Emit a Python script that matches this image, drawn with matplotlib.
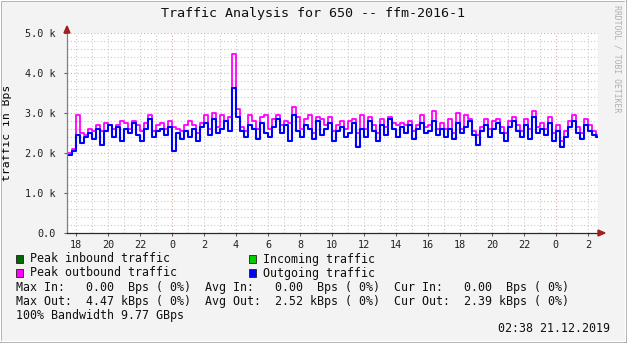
import numpy as np
import matplotlib
matplotlib.use("Agg")
import matplotlib.pyplot as plt
from matplotlib.patches import Rectangle

# hours relative to midnight of the first day, 15 min steps
t_start = -6.5
t_step = 0.25
t_end = 26.63

out_k = [1.95, 2.05, 2.45, 2.25, 2.4, 2.5, 2.35, 2.6, 2.2, 2.55, 2.7, 2.4, 2.65, 2.3, 2.6, 2.5, 2.75, 2.45, 2.3, 2.6, 2.85, 2.4,
         2.55, 2.6, 2.45, 2.65, 2.05, 2.5, 2.35, 2.55, 2.4, 2.6, 2.3, 2.65, 2.75, 2.45, 2.85, 2.5, 2.6, 2.8, 2.55, 3.62, 2.9, 2.55, 2.4, 2.7,
         2.6, 2.35, 2.75, 2.5, 2.4, 2.65, 2.85, 2.5, 2.7, 2.3, 2.95, 2.55, 2.4, 2.7, 2.6, 2.35, 2.8, 2.45, 2.6, 2.75, 2.3, 2.55, 2.65, 2.4,
         2.5, 2.75, 2.15, 2.6, 2.4, 2.8, 2.55, 2.3, 2.7, 2.45, 2.85, 2.6, 2.4, 2.65, 2.5, 2.7, 2.35, 2.6, 2.75, 2.5, 2.55, 2.8, 2.45, 2.6,
         2.4, 2.6, 2.35, 2.75, 2.5, 2.65, 2.8, 2.45, 2.2, 2.55, 2.7, 2.4, 2.6, 2.75, 2.5, 2.3, 2.65, 2.8, 2.55, 2.4, 2.7, 2.35, 2.9, 2.5,
         2.6, 2.45, 2.75, 2.3, 2.55, 2.15, 2.4, 2.65, 2.8, 2.5, 2.35, 2.7, 2.55, 2.45, 2.39]
peak_k = [2.0, 2.1, 2.95, 2.5, 2.45, 2.6, 2.55, 2.7, 2.55, 2.75, 2.7, 2.6, 2.7, 2.8, 2.75, 2.6, 2.8, 2.7, 2.55, 2.75, 2.95, 2.55,
          2.7, 2.75, 2.6, 2.8, 2.65, 2.6, 2.55, 2.7, 2.8, 2.7, 2.5, 2.75, 2.95, 2.6, 3.0, 2.65, 2.95, 2.8, 2.9, 4.47, 3.1, 2.65, 2.55, 2.95,
          2.8, 2.6, 2.9, 2.95, 2.6, 2.85, 2.95, 2.7, 2.8, 2.75, 3.15, 2.9, 2.6, 2.85, 2.95, 2.5, 2.9, 2.85, 2.7, 2.9, 2.55, 2.7, 2.8, 2.6,
          2.8, 2.85, 2.5, 2.95, 2.6, 2.9, 2.7, 2.5, 2.85, 2.65, 2.9, 2.75, 2.7, 2.75, 2.7, 2.8, 2.55, 2.7, 2.95, 2.65, 2.7, 3.05, 2.6, 2.75,
          2.6, 2.85, 2.5, 3.0, 2.6, 2.95, 2.85, 2.55, 2.45, 2.65, 2.85, 2.6, 2.8, 2.85, 2.65, 2.5, 2.8, 2.9, 2.7, 2.55, 2.85, 2.6, 3.05, 2.65,
          2.75, 2.6, 2.9, 2.5, 2.7, 2.3, 2.55, 2.8, 2.95, 2.65, 2.5, 2.85, 2.7, 2.55, 2.45]

x_ticks = list(range(-6, 27, 2))
x_labels = [str(h % 24) for h in x_ticks]
y_ticks = [0, 1, 2, 3, 4, 5]
y_labels = ["0.0", "1.0 k", "2.0 k", "3.0 k", "4.0 k", "5.0 k"]

legend_rows = [
    ("#006600", "Peak inbound traffic", "#00cc00", "Incoming traffic"),
    ("#ff00ff", "Peak outbound traffic", "#0000ff", "Outgoing traffic"),
]
stat_rows = [
    "Max In:   0.00  Bps ( 0%)  Avg In:   0.00  Bps ( 0%)  Cur In:   0.00  Bps ( 0%)",
    "Max Out:  4.47 kBps ( 0%)  Avg Out:  2.52 kBps ( 0%)  Cur Out:  2.39 kBps ( 0%)",
    "100% Bandwidth 9.77 GBps",
]

W, H = 627, 343
mono = "DejaVu Sans Mono"
fig = plt.figure(figsize=(W / 100, H / 100), dpi=100, facecolor="#f3f3f3")

# frame shading
fig.patches.append(Rectangle((0, 0), 1, 1, transform=fig.transFigure, fill=False,
                             edgecolor="#9a9a9a", lw=2))
fig.patches.append(Rectangle((0, 2 / H), 1 - 2 / W, 1 - 2 / H, transform=fig.transFigure, fill=False,
                             edgecolor="#ffffff", lw=1))

ax = fig.add_axes([67 / W, (H - 233) / H, 531 / W, 200 / H], facecolor="white")

t = t_start + t_step * np.arange(len(out_k))
tx = np.append(t, t_end)
ax.step(tx, peak_k + [peak_k[-1]], where="post", color="#ff00ff", lw=1.3)
ax.step(tx, out_k + [out_k[-1]], where="post", color="#0000ff", lw=1.5)

ax.set_xlim(-6.57, t_end)
ax.set_ylim(0, 5)

# grid
for v in np.arange(0.2, 5.01, 0.2):
    major = abs(v - round(v)) < 1e-6
    ax.axhline(v, color="#e0a8a8" if major else "#c8c8c8", lw=0.8, ls=(0, (1, 2)), zorder=0)
for h in range(-6, 27):
    ax.axvline(h, color="#e0a8a8" if h % 24 == 0 else "#c8c8c8", lw=0.8, ls=(0, (1, 2)), zorder=0)

ax.set_xticks(x_ticks)
ax.set_xticklabels(x_labels, fontfamily=mono, fontsize=7.3)
ax.set_yticks(y_ticks)
ax.set_yticklabels(y_labels, fontfamily=mono, fontsize=7.3)
ax.tick_params(axis="both", length=2, width=0.8, color="#606060", colors="#202020")
ax.tick_params(axis="y", pad=6)
ax.tick_params(axis="x", pad=3)
for s in ["top", "right"]:
    ax.spines[s].set_visible(False)
ax.spines["left"].set_color("#808080")
ax.spines["bottom"].set_color("#203020")
ax.spines["left"].set_linewidth(0.9)
ax.spines["bottom"].set_linewidth(0.9)

# axis arrows
fig.patches.append(plt.Polygon([[598 / W, (H - 230) / H], [598 / W, (H - 236) / H], [605 / W, (H - 233) / H]],
                               closed=True, transform=fig.transFigure, color="#a02020"))
fig.patches.append(plt.Polygon([[64 / W, (H - 33) / H], [70 / W, (H - 33) / H], [67 / W, (H - 26) / H]],
                               closed=True, transform=fig.transFigure, color="#a02020"))

ax.set_ylabel("traffic in Bps", fontfamily=mono, fontsize=8.2, labelpad=8)
ax.yaxis.set_label_coords(-55 / 531, 0.5)

fig.text(313 / W, 1 - 13 / H, "Traffic Analysis for 650 -- ffm-2016-1", fontfamily=mono,
         fontsize=9.6, ha="center", va="center", color="#101010")
fig.text(617 / W, 1 - 5 / H, "RRDTOOL / TOBI OETIKER", fontfamily=mono, fontsize=5.9,
         rotation=270, ha="center", va="top", color="#b0b0b0")

# legend
row_y = [259, 273]
for (c1, l1, c2, l2), y in zip(legend_rows, row_y):
    for cx, c, lab in [(16, c1, l1), (249, c2, l2)]:
        fig.patches.append(Rectangle((cx / W, (H - y - 4) / H), 7 / W, 8 / H, transform=fig.transFigure,
                                     facecolor=c, edgecolor="#202020", lw=0.6))
        fig.text((cx + 14) / W, 1 - y / H, lab, fontfamily=mono, fontsize=8.4, va="center", color="#101010")
for i, s in enumerate(stat_rows):
    fig.text(16 / W, 1 - (287 + 14 * i) / H, s, fontfamily=mono, fontsize=8.4, va="center", color="#101010")
fig.text(610 / W, 1 - 329 / H, "02:38 21.12.2019", fontfamily=mono, fontsize=8.4,
         ha="right", va="center", color="#101010")

fig.savefig("out.png", dpi=100, facecolor=fig.get_facecolor())
